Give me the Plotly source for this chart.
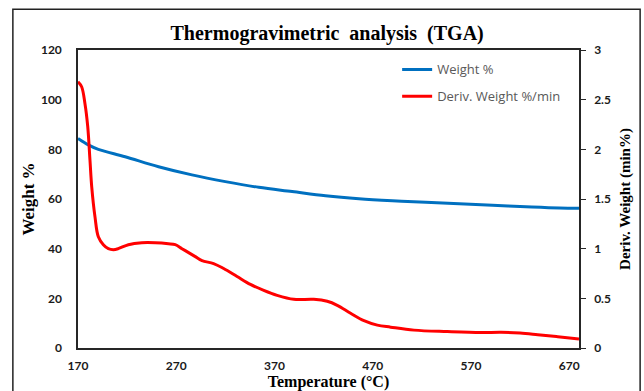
import plotly.graph_objects as go

# Weight % (left axis)
temp_w = [170, 180.5, 190.7, 218, 252, 286, 320, 354, 388, 422, 456, 490, 524, 558, 592, 626, 660, 680]
weight = [84.4, 81.8, 80.0, 77.0, 73.0, 69.7, 67.0, 64.7, 63.0, 61.3, 60.1, 59.3, 58.7, 58.1, 57.5, 56.9, 56.4, 56.3]

# Deriv. Weight %/min (right axis)
temp_d = [170, 173.7, 177.1, 179.9, 182.2, 184, 187.3, 190.7, 195.8, 200.9, 206, 211, 221.3, 235, 248.6,
          262, 269, 275.8, 282.6, 289.4, 296.2, 308, 318.3, 331.9, 345.5, 359.1, 372.7, 389.7, 410,
          423.7, 433.9, 447.5, 461.1, 474.7, 488.3, 512, 546, 580, 600.6, 620, 638, 658.4, 680]
deriv = [2.68, 2.63, 2.46, 2.23, 1.89, 1.62, 1.32, 1.12, 1.04, 1.00, 0.99, 1.00, 1.04, 1.06, 1.06,
         1.05, 1.04, 1.00, 0.96, 0.92, 0.88, 0.85, 0.80, 0.72, 0.64, 0.58, 0.53, 0.49, 0.49,
         0.47, 0.43, 0.35, 0.275, 0.23, 0.21, 0.18, 0.165, 0.155, 0.158, 0.15, 0.134, 0.114, 0.09]

x_ticks = [170, 270, 370, 470, 570, 670]

tick_font = dict(family="Lato, Liberation Sans, sans-serif", size=12, color="#1a1a1a", weight="bold")
serif_bold = dict(family="Liberation Serif, Times New Roman, serif", color="black", weight="bold")

fig = go.Figure()
fig.add_trace(go.Scatter(x=temp_w, y=weight, mode="lines", name="Weight %",
                         line=dict(color="#0070C0", width=3, shape="spline"),
                         legendgroup="a"))
fig.add_trace(go.Scatter(x=temp_d, y=deriv, mode="lines", name="Deriv. Weight %/min",
                         line=dict(color="#FF0000", width=3, shape="spline"),
                         yaxis="y2", legendgroup="b"))

fig.update_layout(
    width=644, height=391,
    margin=dict(l=78, r=65, t=50, b=43),
    paper_bgcolor="white", plot_bgcolor="white",
    title=dict(text="Thermogravimetric  analysis  (TGA)", x=0.508, xanchor="center",
               y=0.915, yanchor="middle", font=dict(size=20, **serif_bold)),
    xaxis=dict(range=[170, 680], tickvals=x_ticks, showgrid=False, zeroline=False,
               showline=True, linecolor="#262626", linewidth=1.5, mirror=True,
               ticks="", tickfont=tick_font, ticklabelstandoff=6, automargin=False,
               title=dict(text="Temperature (°C)", font=dict(size=16, **serif_bold), standoff=4)),
    yaxis=dict(range=[0, 120], dtick=20, showgrid=False, zeroline=False,
               showline=True, linecolor="#262626", linewidth=1.5, automargin=False,
               ticks="", tickfont=tick_font, ticklabelstandoff=12,
               title=dict(text="Weight %", font=dict(size=17, **serif_bold), standoff=2)),
    yaxis2=dict(range=[0, 3], dtick=0.5, overlaying="y", side="right", showgrid=False,
                zeroline=False, showline=True, linecolor="#262626", linewidth=1.5,
                ticks="outside", ticklen=5, tickcolor="#262626", tickfont=tick_font,
                ticklabelstandoff=6, automargin=False,
                title=dict(text="Deriv. Weight (min%)", font=dict(size=15, **serif_bold), standoff=10)),
    legend=dict(x=0.637, y=0.985, xanchor="left", yanchor="top", bgcolor="rgba(0,0,0,0)",
                font=dict(family="Open Sans, Liberation Sans, sans-serif", size=13, color="#595959"),
                traceorder="grouped", tracegroupgap=7, itemwidth=30),
    showlegend=True,
    shapes=[dict(type="rect", xref="paper", yref="paper", x0=-0.13, x1=1.122, y0=-0.2, y1=1.137,
                 line=dict(color="#222222", width=1.5), layer="below")],
)

fig.write_html("out.html")
